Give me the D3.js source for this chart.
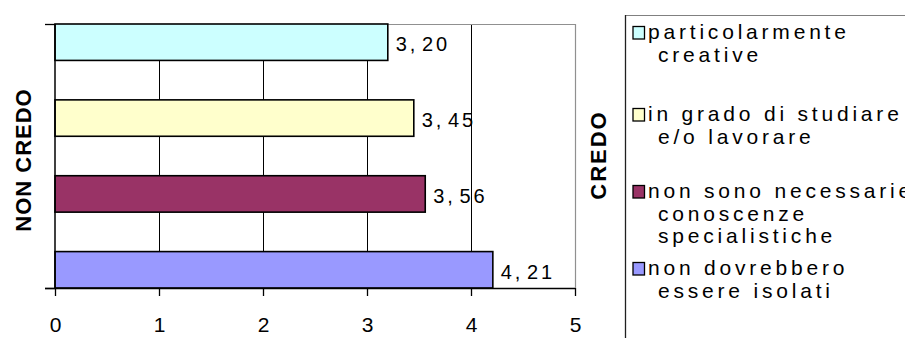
<!DOCTYPE html>
<html>
<head>
<meta charset="utf-8">
<script src="https://cdn.jsdelivr.net/npm/d3@7"></script>
<style>
  html, body { margin: 0; padding: 0; background: #fff; }
  svg { display: block; font-family: "Liberation Sans", Arial, sans-serif; }
</style>
</head>
<body>
<svg id="chart" width="905" height="338"></svg>
<script>
// Categories (top to bottom) with their legend wording split into lines
const categories = [
  "particolarmente creative",
  "in grado di studiare e/o lavorare",
  "non sono necessarie conoscenze specialistiche",
  "non dovrebbero essere isolati"
];
const legendLines = [
  ["particolarmente", "creative"],
  ["in grado di studiare", "e/o lavorare"],
  ["non sono necessarie", "conoscenze", "specialistiche"],
  ["non dovrebbero", "essere isolati"]
];
const values = [3.20, 3.45, 3.56, 4.21];
const colors = ["#CCFFFF", "#FFFFCC", "#993366", "#9999FF"];
const xTicks = [0, 1, 2, 3, 4, 5];
const leftTitle = "NON CREDO";
const rightTitle = "CREDO";

const svg = d3.select("#chart");

const plot = { left: 55, right: 575, top: 24, bottom: 288 };

const x = d3.scaleLinear().domain([0, 5]).range([plot.left, plot.right]);
const y = d3.scaleBand()
  .domain(categories)
  .range([plot.top, plot.bottom])
  .paddingInner(0.52)
  .paddingOuter(0);

// Vertical gridlines
svg.append("g")
  .selectAll("line")
  .data(xTicks.filter(t => t > 0 && t < 5))
  .join("line")
  .attr("x1", d => Math.round(x(d)) + 0.5)
  .attr("x2", d => Math.round(x(d)) + 0.5)
  .attr("y1", plot.top)
  .attr("y2", plot.bottom)
  .attr("stroke", "#000")
  .attr("stroke-width", 1);

// Plot frame (top and right, grey)
svg.append("path")
  .attr("d", `M${plot.left},${plot.top + 0.5}H${plot.right + 0.5}V${plot.bottom}`)
  .attr("fill", "none")
  .attr("stroke", "#909090")
  .attr("stroke-width", 1.2);

// Bars
svg.append("g")
  .selectAll("rect")
  .data(categories)
  .join("rect")
  .attr("x", x(0))
  .attr("y", d => y(d))
  .attr("width", (d, i) => x(values[i]) - x(0))
  .attr("height", y.bandwidth())
  .attr("fill", (d, i) => colors[i])
  .attr("stroke", "#000")
  .attr("stroke-width", 1.6);

// Value labels, Italian decimal comma
const fmt = v => d3.format(".2f")(v).split(".");
const vl = svg.append("g")
  .selectAll("text")
  .data(categories)
  .join("text")
  .attr("x", (d, i) => x(values[i]) + 8)
  .attr("y", d => y(d) + y.bandwidth() / 2 + 9)
  .attr("font-size", 20)
  .attr("letter-spacing", 2.8)
  .attr("fill", "#000");
vl.append("tspan").text((d, i) => fmt(values[i])[0] + ",");
vl.append("tspan").attr("dx", 4).text((d, i) => fmt(values[i])[1]);

// Bottom axis
const xAxis = svg.append("g")
  .attr("transform", `translate(0,${plot.bottom})`)
  .call(d3.axisBottom(x).tickValues(xTicks).tickSize(8).tickPadding(21).tickFormat(d3.format("d")));
xAxis.select(".domain").attr("stroke", "#000").attr("stroke-width", 1.5)
  .attr("d", `M${plot.left - 10},0.5H${plot.right}`);
xAxis.selectAll(".tick line").attr("stroke", "#000").attr("stroke-width", 1.3);
xAxis.selectAll(".tick text")
  .attr("font-size", 21)
  .attr("font-family", "\"Liberation Sans\", Arial, sans-serif")
  .attr("fill", "#000");

// Left axis line with outer ticks at top and bottom
const yEdges = [plot.top, plot.bottom];
svg.append("line")
  .attr("x1", plot.left).attr("x2", plot.left)
  .attr("y1", plot.top).attr("y2", plot.bottom)
  .attr("stroke", "#000").attr("stroke-width", 1.5);
svg.append("g").selectAll("line")
  .data(yEdges)
  .join("line")
  .attr("x1", plot.left - 10).attr("x2", plot.left)
  .attr("y1", d => d + 0.5).attr("y2", d => d + 0.5)
  .attr("stroke", "#000").attr("stroke-width", 1.3);

// Rotated titles
svg.append("text")
  .attr("transform", "translate(31,160) rotate(-90)")
  .attr("text-anchor", "middle")
  .attr("font-weight", "bold")
  .attr("font-size", 22)
  .attr("letter-spacing", 1)
  .text(leftTitle);

svg.append("text")
  .attr("transform", "translate(606,155) rotate(-90)")
  .attr("text-anchor", "middle")
  .attr("font-weight", "bold")
  .attr("font-size", 22)
  .attr("letter-spacing", 2)
  .text(rightTitle);

// Legend frame
svg.append("path")
  .attr("d", "M905,15.5H625.5V338")
  .attr("fill", "none")
  .attr("stroke", "#808080")
  .attr("stroke-width", 1.2);
svg.append("line")
  .attr("x1", 625.5).attr("x2", 625.5).attr("y1", 15).attr("y2", 338)
  .attr("stroke", "#202020").attr("stroke-width", 1.2);

// Legend entries: first-line baselines of each entry
const legendRows = [39, 121, 198, 275];
const lineH = 22.5;
const legend = svg.append("g")
  .selectAll("g")
  .data(categories)
  .join("g")
  .attr("transform", (d, i) => `translate(0,${legendRows[i]})`);

legend.append("rect")
  .attr("x", 633).attr("y", -12.5)
  .attr("width", 11.5).attr("height", 12.5)
  .attr("fill", (d, i) => colors[i])
  .attr("stroke", "#000")
  .attr("stroke-width", 1.3);

legend.each(function (d, i) {
  d3.select(this).selectAll("text")
    .data(legendLines[i])
    .join("text")
    .attr("x", (t, j) => j === 0 ? 648 : 658)
    .attr("y", (t, j) => j * lineH)
    .attr("font-size", 21)
    .attr("letter-spacing", 3.8)
    .attr("fill", "#000")
    .text(t => t);
});
</script>
</body>
</html>
